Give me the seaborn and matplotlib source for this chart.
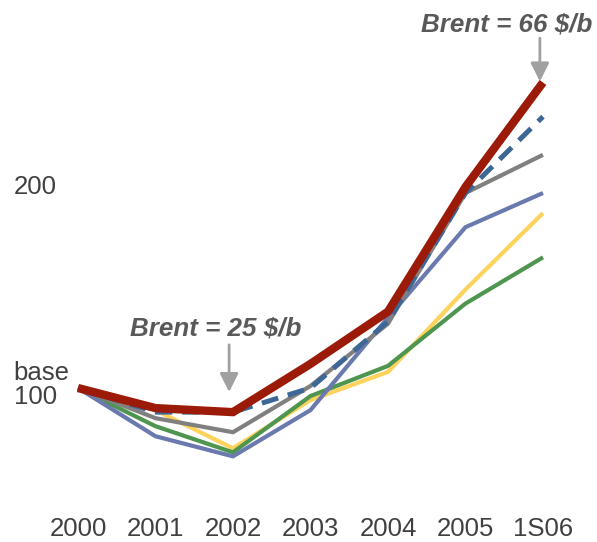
import matplotlib
matplotlib.use("Agg")
import matplotlib.pyplot as plt
import matplotlib.transforms as mtransforms
import numpy as np
import pandas as pd
import seaborn as sns

periods = ["2000", "2001", "2002", "2003", "2004", "2005", "1S06"]
brent_high = [100, 90, 88, 112, 138, 200, 252]
brent_dashed = [100, 88, 88, 100, 133, 197, 235]
gray_series = [100, 85, 78, 101, 132, 197, 216]
blue_series = [100, 76, 66, 89, 135, 180, 197]
yellow_series = [100, 89, 70, 94, 108, 149, 187]
green_series = [100, 81, 68, 96, 111, 142, 165]

ytick_values = [100, 200]
ytick_labels = ["base\n100", "200"]
annotations = [("Brent = 25 $/b", 2), ("Brent = 66 $/b", 6)]

series = {
    "yellow": yellow_series,
    "green": green_series,
    "blue": blue_series,
    "gray": gray_series,
    "dashed": brent_dashed,
    "red": brent_high,
}
colors = {"yellow": "#FDD35C", "green": "#4E9550", "blue": "#6A79AE",
          "gray": "#808080", "dashed": "#3C6796", "red": "#9C1A08"}
widths = {"yellow": 3.0, "green": 3.0, "blue": 3.0, "gray": 3.0, "dashed": 3.6, "red": 6.0}
dashes = {"yellow": "", "green": "", "blue": "", "gray": "", "dashed": (3.4, 2.0), "red": ""}

rows = []
for name, vals in series.items():
    for i, v in enumerate(vals):
        rows.append({"pos": i, "value": v, "series": name})
df = pd.DataFrame(rows)

sns.set_theme(style="white")
plt.rcParams["font.family"] = ["Liberation Sans", "DejaVu Sans"]

fig = plt.figure(figsize=(5.97, 5.42), dpi=100)
ax = fig.add_axes([0.0657, 0.0616, 0.9087, 0.8901])

order = list(series.keys())
sns.lineplot(data=df, x="pos", y="value", hue="series", hue_order=order,
             palette=colors, style="series", style_order=order, dashes=dashes,
             size="series", size_order=order, sizes=widths, legend=False,
             ax=ax, sort=False)
for ln in ax.get_lines():
    ln.set_solid_capstyle("butt")
    ln.set_dash_capstyle("butt")
    ln.set_solid_joinstyle("miter")

ax.set_xlim(-0.5, 6.5)
ax.set_ylim(40, 280)
ax.set_xticks(range(len(periods)))
ax.set_xticklabels(periods, fontsize=18.5, color="#404040")
ax.tick_params(axis="x", length=0, pad=6)
ax.set_yticks([])
ax.set_xlabel("")
ax.set_ylabel("")
for s in ax.spines.values():
    s.set_visible(False)

trans = mtransforms.blended_transform_factory(fig.transFigure, ax.transData)
for val, lab in zip(ytick_values, ytick_labels):
    ax.text(0.023, val + (1.5 if "\n" in lab else 0), lab, transform=trans,
            ha="left", va="center", fontsize=18.5, color="#404040",
            linespacing=0.95, multialignment="left")

# Brent annotations
ax.annotate("", xy=(1.95, 98), xytext=(1.95, 121.5),
            arrowprops=dict(arrowstyle="-|>", color="#A0A0A0", lw=2,
                            mutation_scale=28, shrinkA=0, shrinkB=0))
ax.text(1.78, 129.5, annotations[0][0], ha="center", va="center",
        fontsize=18.7, fontweight="bold", fontstyle="italic", color="#595959")
ax.annotate("", xy=(5.96, 252.5), xytext=(5.96, 274),
            arrowprops=dict(arrowstyle="-|>", color="#A0A0A0", lw=2,
                            mutation_scale=28, shrinkA=0, shrinkB=0))
ax.text(5.53, 281, annotations[1][0], ha="center", va="center",
        fontsize=18.7, fontweight="bold", fontstyle="italic", color="#595959")

fig.savefig("out.png", dpi=100)
